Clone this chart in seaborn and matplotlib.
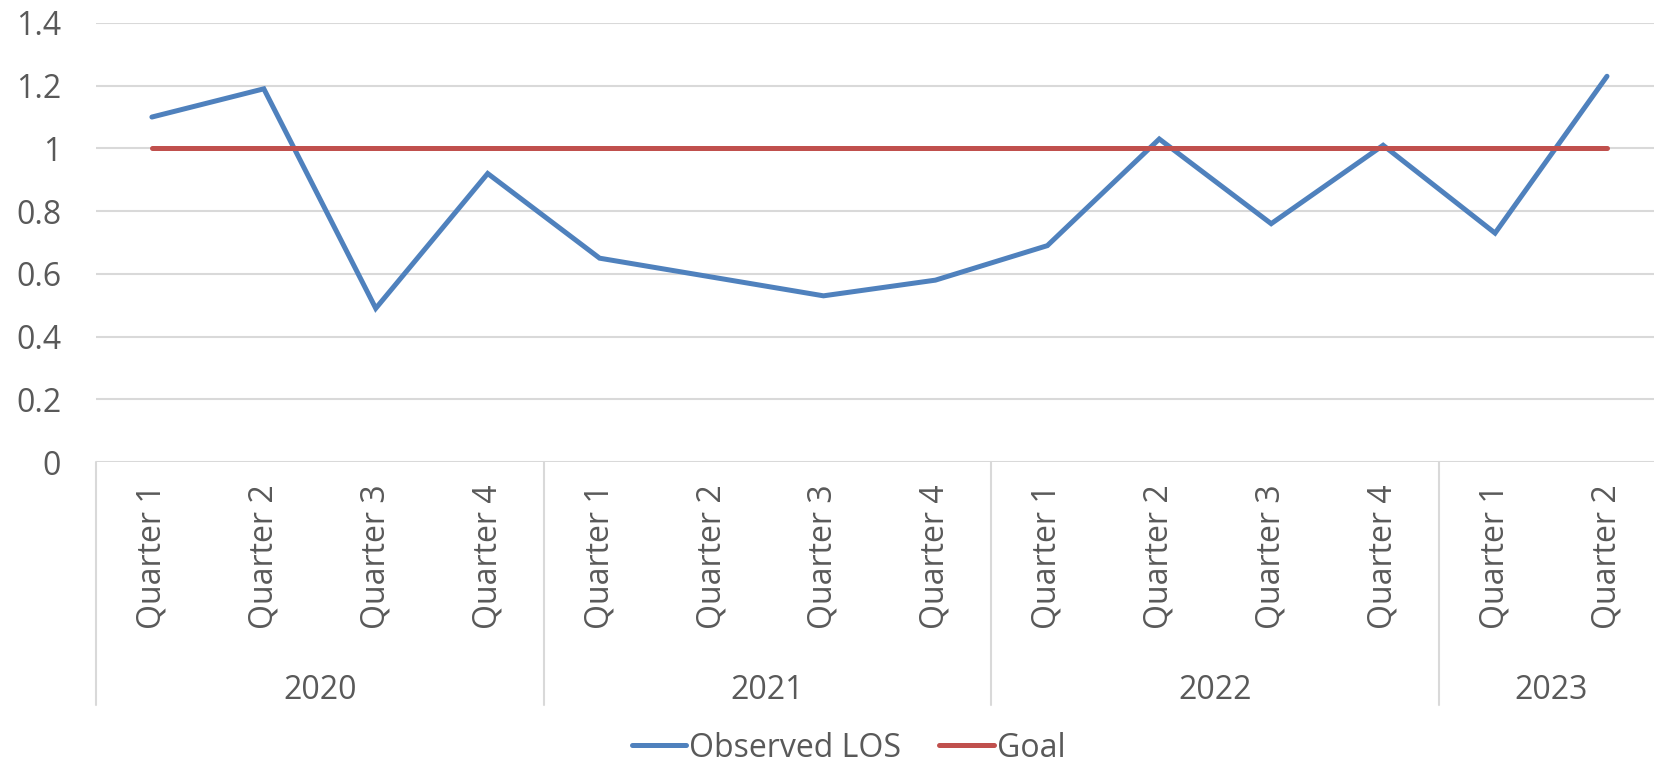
import matplotlib
matplotlib.use("Agg")
import matplotlib.pyplot as plt
import matplotlib.transforms as mtransforms
import numpy as np
import pandas as pd
import seaborn as sns

years = ["2020", "2021", "2022", "2023"]
quarters_per_year = [4, 4, 4, 2]
quarter_labels = ["Quarter 1", "Quarter 2", "Quarter 3", "Quarter 4",
                  "Quarter 1", "Quarter 2", "Quarter 3", "Quarter 4",
                  "Quarter 1", "Quarter 2", "Quarter 3", "Quarter 4",
                  "Quarter 1", "Quarter 2"]
observed_los = [1.10, 1.19, 0.49, 0.92, 0.65, 0.59, 0.53, 0.58,
                0.69, 1.03, 0.76, 1.01, 0.73, 1.23]
goal = [1.0] * 14

sns.set_theme(style="white")
plt.rcParams['font.family'] = ['Open Sans', 'DejaVu Sans']

text_color = "#595959"
grid_color = "#D9D9D9"
fs = 23
lw = 3.6

pos = np.arange(len(quarter_labels))
df = pd.DataFrame({
    "pos": np.concatenate([pos, pos]),
    "value": observed_los + goal,
    "series": ["Observed LOS"] * len(pos) + ["Goal"] * len(pos),
})

fig = plt.figure(figsize=(16.54, 7.65), dpi=100)
ax = fig.add_axes([0.058, 0.396, 0.942, 0.574])

sns.lineplot(data=df, x="pos", y="value", hue="series",
             palette={"Observed LOS": "#4F81BD", "Goal": "#C0504D"},
             linewidth=lw, ax=ax, legend=False)
for line in ax.get_lines():
    line.set_solid_capstyle("round")
    line.set_solid_joinstyle("miter")

ax.set_ylim(0, 1.4)
ax.set_yticks(np.arange(0, 1.41, 0.2))
ax.set_yticklabels(["0", "0.2", "0.4", "0.6", "0.8", "1", "1.2", "1.4"])
ax.set_xlim(-0.5, 13.42)
ax.yaxis.grid(True, color=grid_color, linewidth=1.5)
ax.set_axisbelow(True)
for s in ax.spines.values():
    s.set_visible(False)

ax.set_xticks(pos)
ax.set_xticklabels(quarter_labels, rotation=90)
ax.tick_params(axis="x", length=0, pad=16, labelsize=fs, labelcolor=text_color)
ax.tick_params(axis="y", length=0, pad=25, labelsize=fs, labelcolor=text_color)
ax.set_xlabel("")
ax.set_ylabel("")

# year row under the quarter labels, with group separators
trans = mtransforms.blended_transform_factory(ax.transData, ax.transAxes)
start = -0.5
bounds = [start]
for yr, n in zip(years, quarters_per_year):
    end = start + n
    ax.text((start + end) / 2, -0.52, yr, transform=trans, ha="center",
            va="center", fontsize=fs, color=text_color)
    start = end
    bounds.append(end)
for b in bounds:
    ax.plot([b, b], [0, -0.553], transform=trans, color=grid_color,
            linewidth=1.5, clip_on=False)

handles = [plt.Line2D([], [], color="#4F81BD", linewidth=lw, solid_capstyle="round"),
           plt.Line2D([], [], color="#C0504D", linewidth=lw, solid_capstyle="round")]
fig.legend(handles, ["Observed LOS", "Goal"], loc="center",
           bbox_to_anchor=(0.513, 0.022), ncol=2, frameon=False, fontsize=fs,
           labelcolor=text_color, handlelength=1.7, handletextpad=0.1,
           columnspacing=1.2)

fig.savefig("out.png", dpi=100)
